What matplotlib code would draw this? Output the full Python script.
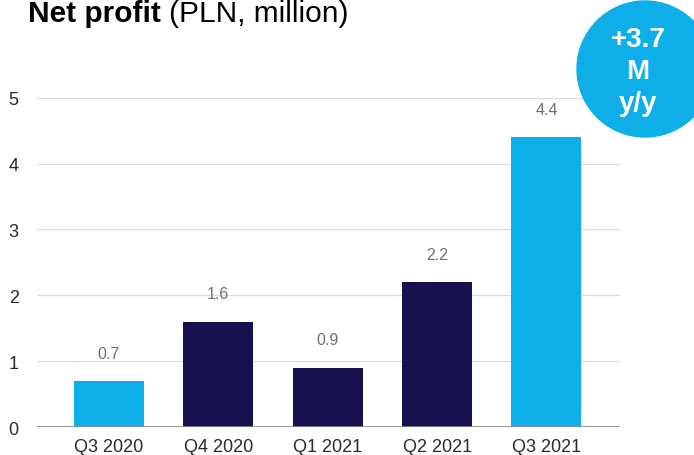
import matplotlib
matplotlib.use("Agg")
import matplotlib.pyplot as plt
from matplotlib.patches import Circle

# quarterly net profit, PLN million
quarters = ["Q3 2020", "Q4 2020", "Q1 2021", "Q2 2021", "Q3 2021"]
profit = [0.7, 1.6, 0.9, 2.2, 4.4]
highlight = [True, False, False, False, True]
yoy_label = "+3.7\nM\ny/y"

light_blue = "#0eaee9"
navy = "#181150"

plt.rcParams["font.family"] = ["Liberation Sans", "DejaVu Sans"]

fig = plt.figure(figsize=(6.94, 4.56), dpi=100)
ax = fig.add_axes([0.053, 0.0614, 0.84, 0.722])

colors = [light_blue if h else navy for h in highlight]
x = list(range(len(quarters)))
bars = ax.bar(x, profit, width=0.64, color=colors, zorder=3)

for xi, v in zip(x, profit):
    ax.annotate("%.1f" % v, xy=(xi, v), xytext=(0, 20), textcoords="offset points",
                ha="center", va="center", fontsize=11.5, color="#707070")

ax.set_xlim(-0.66, 4.67)
ax.set_ylim(0, 5)
ax.set_yticks(range(6))
ax.set_xticks(x)
ax.set_xticklabels(quarters)
ax.grid(axis="y", color="#dcdcdc", linewidth=0.9, zorder=0)
ax.axhline(0, color="#8a8a8a", linewidth=1.2, zorder=4)
for s in ax.spines.values():
    s.set_visible(False)
ax.tick_params(axis="both", length=0, labelsize=13, colors="#2a2a2a")
ax.tick_params(axis="x", pad=8)
ax.tick_params(axis="y", pad=13)

# title: bold part followed by regular part
title = fig.text(28 / 694, 1 - 22 / 456, "Net profit", fontsize=21.5, fontweight="bold",
                 va="baseline", ha="left")
fig.canvas.draw()
bb = title.get_window_extent()
fig.text((bb.x1 + 8) / 694, 1 - 22 / 456, "(PLN, million)", fontsize=21.5,
         va="baseline", ha="left")

# y/y badge in the corner
badge = Circle((645, 456 - 70), 68, transform=None, color=light_blue, zorder=10)
fig.patches.append(badge)
fig.text(638 / 694, 1 - 72 / 456, yoy_label, ha="center", va="center", color="white",
         fontsize=20, fontweight="bold", linespacing=1.3, zorder=11)

fig.savefig("out.png", dpi=100)
